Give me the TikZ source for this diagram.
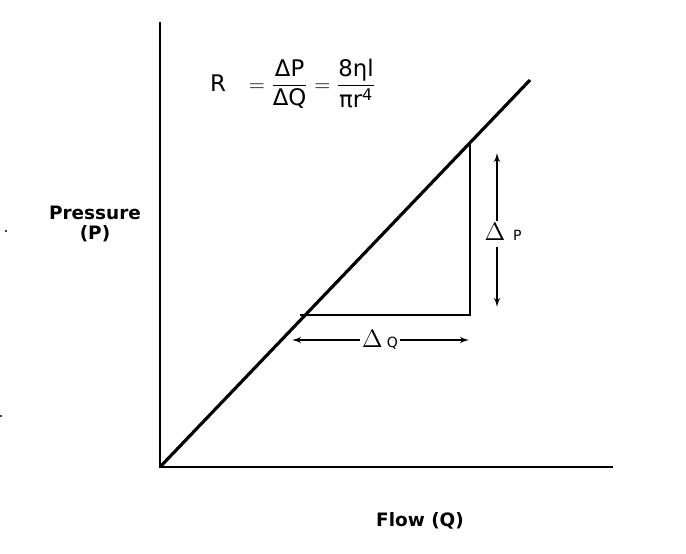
\documentclass[tikz,border=0pt]{standalone}
\usepackage{fontspec}
\setmainfont{DejaVu Sans}
\usepackage{amsmath}
\usetikzlibrary{arrows, positioning, calc}

\begin{document}
\begin{tikzpicture}[
    x=0.02cm, y=-0.02cm,
    axis/.style={draw, line width=0.8pt},
    curve/.style={draw, line width=1.8pt},
    side/.style={draw, line width=0.8pt},
    line/.style={draw, line width=0.8pt, -latex'},
    lbl/.style={font=\fontsize{14}{16}\selectfont, inner sep=1pt},
    axlbl/.style={font=\fontsize{10.5}{11}\selectfont\bfseries, align=center}
]
\useasboundingbox (0,0) rectangle (686,554);

% Axes
\coordinate (origin) at (160,467);
\coordinate (ytop) at (160,22);
\coordinate (xend) at (613,467);
\path[axis] (ytop) -- (origin) -- (xend);

% Pressure-flow line
\coordinate (lineend) at (530,80);
\path[curve] (origin) -- (lineend);

% Triangle
\coordinate (tritop) at (470,143);
\coordinate (tricorner) at (470,315);
\coordinate (trileft) at (300,315);
\path[side] (tritop) -- (tricorner) -- (trileft);

% Delta labels and arrows
\node[lbl] (dp) at (503,232) {$\Delta$ \fontsize{8}{9}\selectfont P};
\coordinate (dptop) at (497,153);
\coordinate (dpbot) at (497,307);
\path[line] (dp.north west -| dptop) -- (dptop);
\path[line] ($(dp.south west -| dpbot)+(0,4)$) -- (dpbot);

\node[lbl] (dq) at (380,340) {$\Delta$\,\fontsize{8}{9}\selectfont Q};
\coordinate (dqleft) at (292,340);
\coordinate (dqright) at (469,340);
\path[line] (dq.west) -- (dqleft);
\path[line] (dq.east) -- (dqright);

% Formula
\node[lbl, font=\fontsize{13}{15}\selectfont] (formula) at (293,84)
  {R\quad$=\dfrac{\text{ΔP}}{\text{ΔQ}}=\dfrac{\text{8ηl}}{\text{πr}^{\text{4}}}$};

% Axis labels
\node[axlbl] (ylabel) at (95,224) {Pressure\\(P)};
\node[axlbl] (xlabel) at (420,521) {Flow (Q)};

% Stray marks
\fill (6,231) circle (0.6pt);
\fill (1,416) circle (0.6pt);
\end{tikzpicture}
\end{document}
